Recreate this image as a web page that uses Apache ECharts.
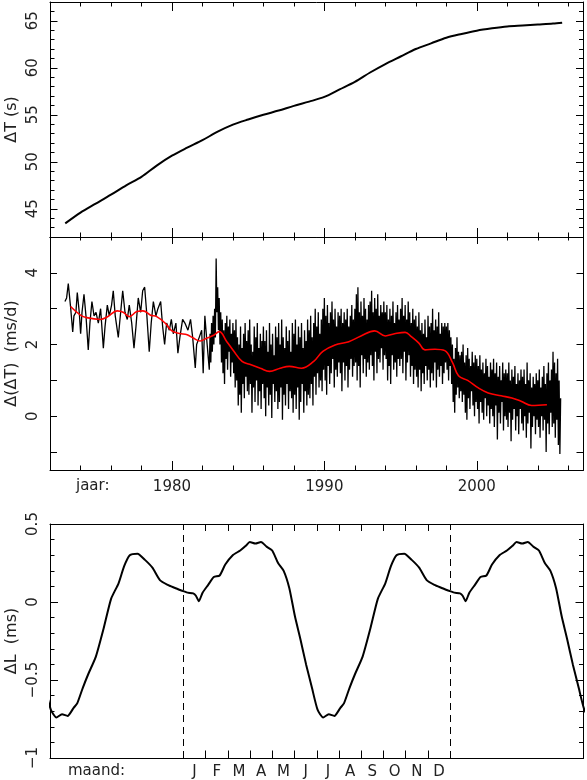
<!DOCTYPE html>
<html><head><meta charset="utf-8">
<script src="https://cdn.jsdelivr.net/npm/echarts@6.0.0/dist/echarts.min.js"></script>
<style>html,body{margin:0;padding:0;background:#fff}#c{width:587px;height:780px}</style>
</head><body><div id="c"></div>
<script>
// ---------- DATA ----------
const dtYears  = [1973.0,1974,1975,1976,1977,1978,1979,1980,1981,1982,1983,1984,1985,1986,1987,1988,1989,1990,1991,1992,1993,1994,1995,1996,1997,1998,1999,2000,2001,2002,2003,2004,2005,2005.6];
const dtValues = [43.45,44.6,45.55,46.5,47.5,48.4,49.6,50.65,51.5,52.3,53.2,53.95,54.5,55.0,55.45,55.95,56.4,56.9,57.7,58.5,59.5,60.4,61.2,62.0,62.6,63.2,63.6,63.95,64.2,64.4,64.5,64.6,64.7,64.8];

const lodEarlyYears  = [1972.98,1973.09,1973.20,1973.36,1973.49,1973.57,1973.70,1973.79,1973.92,1974.01,1974.10,1974.23,1974.36,1974.51,1974.62,1974.75,1974.89,1975.02,1975.17,1975.32,1975.50,1975.61,1975.76,1975.89,1976.04,1976.15,1976.28,1976.48,1976.59,1976.77,1976.92,1977.07,1977.20,1977.36,1977.51,1977.64,1977.79,1977.95,1978.08,1978.21,1978.34,1978.51,1978.64,1978.78,1978.95,1979.08,1979.26,1979.39,1979.52,1979.65,1979.83,1979.96,1980.09,1980.26,1980.39,1980.52,1980.70,1980.85,1981.05,1981.22,1981.36,1981.53,1981.62,1981.79,1981.95,1982.05,1982.16,1982.27,1982.45];
const lodEarlyValues = [3.2,3.3,3.7,3.0,2.35,2.8,2.9,3.45,2.9,2.3,2.9,3.4,2.8,1.85,2.6,3.2,2.8,2.9,2.6,3.0,1.9,2.5,3.1,2.8,3.1,3.5,2.8,2.2,2.7,3.5,2.9,2.7,3.1,2.6,1.9,2.5,3.3,2.9,3.5,3.6,2.9,1.8,2.6,3.2,2.8,3.0,3.2,2.5,2.0,2.6,2.4,2.7,2.3,2.6,1.76,2.2,2.7,2.6,2.4,2.7,2.2,1.35,2.0,2.2,2.4,1.2,2.8,2.2,1.3];

// dense part: one sample every 0.05 yr starting 1982.5
const lodDenseStart = 1982.5;
const lodDenseStep = 0.05;
const lodDenseValues = [
 2.3,1.5,2.6,1.8,2.8,2.0,3.0,2.2,4.4,2.9,
 3.6,2.4,3.3,2.0,2.9,1.5,2.7,1.2,2.4,0.9,2.6,1.6,2.8,1.3,2.5,1.8,2.7,1.1,2.3,1.5,
 2.6,1.2,2.4,0.8,2.7,1.0,2.2,0.3,2.0,0.6,2.5,0.1,1.9,0.9,2.3,0.5,2.6,1.1,2.1,0.7,
 2.4,0.6,2.7,0.9,2.0,0.1,1.8,0.8,2.5,0.4,2.2,1.0,2.6,0.3,1.9,0.7,2.3,0.2,2.1,0.9,
 2.5,0.5,2.1,0.0,2.4,0.8,1.8,0.3,2.6,0.6,2.0,-0.05,2.3,0.9,1.7,0.4,2.5,0.7,2.2,0.2,
 2.6,0.4,2.0,0.8,2.7,-0.1,2.2,0.6,1.9,0.3,2.5,0.9,2.1,0.2,2.4,0.7,1.8,0.5,2.6,0.1,
 2.3,0.6,2.7,0.2,2.0,0.8,2.5,-0.1,2.2,0.4,2.6,0.9,1.9,0.1,2.4,0.7,2.1,0.3,2.7,0.6,
 2.4,0.5,2.8,0.9,2.2,0.3,2.6,1.1,3.0,0.6,2.5,1.2,2.9,0.8,2.3,1.0,2.7,0.7,3.0,1.3,
 3.3,1.0,2.8,0.6,3.1,1.4,2.6,0.9,2.9,1.2,3.2,1.6,2.7,0.8,3.0,1.3,2.5,1.1,2.9,1.5,
 2.8,1.2,3.0,0.7,2.6,1.5,2.9,1.0,2.7,1.4,3.0,0.8,2.5,1.3,2.8,1.6,3.1,1.1,2.7,1.4,
 3.0,1.5,3.4,1.0,3.6,1.4,2.9,0.8,3.2,1.7,2.8,1.2,3.3,1.6,3.0,1.1,2.7,1.5,3.1,1.3,
 3.2,1.7,3.5,1.4,2.9,1.0,3.3,1.8,3.0,1.2,3.4,1.6,2.8,1.5,3.1,1.9,2.9,1.3,3.2,1.7,
 2.9,1.6,3.1,1.0,2.7,1.4,3.0,0.9,2.8,1.7,3.2,1.3,2.6,1.5,2.9,1.1,3.1,1.6,2.7,1.4,
 3.0,1.6,3.3,1.2,2.8,1.8,3.1,1.0,2.7,1.5,3.2,1.7,2.9,1.1,2.6,1.4,3.0,0.9,2.7,1.3,
 2.8,1.1,2.5,0.8,2.9,1.3,2.4,0.7,2.6,1.2,2.3,0.9,2.7,1.4,2.2,1.0,2.8,1.3,2.5,0.8,
 2.6,1.2,3.0,1.0,2.4,1.5,2.7,0.8,2.5,1.3,2.9,1.1,2.3,1.4,2.6,0.9,2.5,1.2,2.6,1.5,
 2.5,1.3,2.6,1.0,2.4,1.4,2.2,0.9,2.0,0.4,1.6,0.1,1.9,0.6,2.2,0.8,1.8,0.5,1.7,0.7,
 1.8,0.4,2.0,0.6,1.5,0.1,1.7,-0.1,1.9,0.5,1.6,0.2,1.4,0.7,1.8,0.3,1.5,0.0,1.7,0.4,
 1.6,0.2,1.4,-0.2,1.7,0.4,1.3,0.1,1.5,-0.1,1.2,0.5,1.6,0.0,1.4,0.3,1.1,-0.2,1.5,0.2,
 1.3,0.0,1.6,-0.3,1.2,0.3,1.5,-0.65,1.1,0.1,1.4,-0.2,1.0,0.4,1.5,-0.4,1.2,0.0,1.3,-0.1,
 1.2,-0.3,1.5,0.1,1.0,-0.7,1.3,-0.1,1.1,0.2,1.4,-0.4,0.9,0.0,1.2,-0.5,1.0,0.2,1.3,-0.2,
 1.1,-0.4,1.3,0.0,0.9,-0.6,1.5,-0.2,1.0,0.1,1.2,-0.9,0.8,-0.3,1.1,0.0,0.9,-0.5,1.2,-0.1,
 1.0,-0.3,1.3,-0.6,0.8,0.0,1.1,-0.4,1.4,-0.1,0.9,-1.0,1.2,-0.2,1.5,-0.5,1.0,0.1,1.3,-0.3,
 1.8,-0.2,1.5,-0.6,1.2,-0.1,1.6,-0.8,1.0,-1.05,0.5
];

const lodSmoothYears  = [1973.35,1974.0,1974.4,1975.3,1975.8,1976.4,1976.8,1977.2,1977.7,1978.1,1978.6,1979.0,1979.55,1980.0,1980.5,1981.0,1981.4,1981.85,1982.3,1982.7,1983.1,1983.6,1984.0,1984.6,1985.1,1985.8,1986.4,1987.1,1987.7,1988.5,1989.3,1989.9,1990.7,1991.6,1992.4,1993.3,1994.0,1994.6,1995.3,1995.7,1996.2,1996.6,1997.25,1997.9,1998.4,1998.8,1999.4,2000.1,2000.75,2001.6,2002.3,2002.9,2003.6,2004.6];
const lodSmoothValues = [3.06,2.82,2.75,2.70,2.78,2.94,2.90,2.78,2.92,2.94,2.82,2.78,2.60,2.38,2.31,2.27,2.18,2.10,2.18,2.25,2.36,2.08,1.85,1.53,1.45,1.34,1.25,1.34,1.39,1.34,1.53,1.81,1.99,2.08,2.24,2.38,2.24,2.30,2.34,2.22,2.04,1.85,1.87,1.83,1.50,1.13,1.00,0.79,0.65,0.57,0.51,0.42,0.30,0.32];

// seasonal variation over one year (fraction of year from 1 Jan)
const seasonT  = [0,0.016,0.037,0.047,0.058,0.072,0.093,0.114,0.136,0.157,0.185,0.213,0.234,0.249,0.270,0.291,0.312,0.333,0.355,0.376,0.397,0.418,0.439,0.460,0.482,0.503,0.524,0.545,0.566,0.588,0.602,0.623,0.644,0.672,0.701,0.729,0.757,0.778,0.799,0.828,0.856,0.884,0.912,0.941,0.969,0.990];
const seasonDL = [0.07,0.06,0.055,0.04,0.005,0.06,0.11,0.16,0.17,0.24,0.30,0.33,0.36,0.385,0.375,0.385,0.355,0.33,0.25,0.20,0.09,-0.09,-0.24,-0.40,-0.55,-0.69,-0.74,-0.72,-0.73,-0.68,-0.65,-0.55,-0.46,-0.35,-0.17,0.02,0.12,0.23,0.30,0.31,0.27,0.22,0.14,0.11,0.09,0.075];

const decadeTicks = [1980,1990,2000];
const dtLabelTicks = [45,50,55,60,65];
const lodTicks = [-1,0,1,2,3,4];
const lodLabelTicks = [0,2,4];
const dlLabelTicks = [-1,-0.5,0,0.5];
const monthLabels = ['J','F','M','A','M','J','J','A','S','O','N','D'];
const monthTicks = [1,2,3,4,5,6,7,8,9,10,11].map(m => m/12);
const monthCenters = monthLabels.map((_, i) => (i + 0.5)/12);

// ---------- BUILD ----------
const FONT = 'DejaVu Sans';
const TXT = '#222';
const LINE = {show:true, onZero:false, lineStyle:{color:'#000', width:1}};
const NOLINE = {show:false, onZero:false};
function ax(o){
  return Object.assign({type:'value', splitLine:{show:false}, axisLine:NOLINE,
    axisLabel:{show:false}, axisTick:{show:false}}, o);
}
function tick(len, extra){ return Object.assign({show:true, inside:true, length:len, lineStyle:{color:'#000', width:1}}, extra||{}); }
const lbl = (extra) => Object.assign({show:true, color:TXT, fontFamily:FONT, fontSize:15}, extra);
const fmtMinus = v => String(Math.round(v*10)/10).replace('-', '\u2212');

const G = [
  {left:50, right:3.5, top:2, height:235},
  {left:50, right:3.5, top:237, height:233},
  {left:50, right:3.5, top:524, height:234}
].map(g => Object.assign({containLabel:false, outerBoundsMode:'none'}, g));

const X0 = {min:1972, max:2007};
const xAxis = [
  ax(Object.assign({gridIndex:0, position:'bottom', interval:2, axisLine:LINE, axisTick:tick(4.5)}, X0)),
  ax(Object.assign({gridIndex:0, position:'bottom', axisTick:tick(9, {customValues:decadeTicks})}, X0)),
  ax(Object.assign({gridIndex:0, position:'top', interval:2, axisLine:LINE, axisTick:tick(4.5)}, X0)),
  ax(Object.assign({gridIndex:0, position:'top', axisTick:tick(9, {customValues:decadeTicks})}, X0)),
  ax(Object.assign({gridIndex:1, position:'bottom', interval:2, axisLine:LINE, axisTick:tick(4.5)}, X0)),
  ax(Object.assign({gridIndex:1, position:'bottom', axisTick:tick(9, {customValues:decadeTicks}),
     axisLabel:lbl({customValues:decadeTicks, margin:10, formatter: v => String(v)})}, X0)),
  ax(Object.assign({gridIndex:1, position:'top', interval:2, axisLine:LINE, axisTick:tick(3.5)}, X0)),
  ax(Object.assign({gridIndex:1, position:'top', axisTick:tick(7, {customValues:decadeTicks})}, X0)),
  ax({gridIndex:2, position:'bottom', min:-0.5, max:1.5, axisLine:LINE,
     axisTick:tick(7.5, {customValues:monthTicks}),
     axisLabel:lbl({customValues:monthCenters, margin:7, formatter: v => monthLabels[Math.round(v*12-0.5)]})}),
  ax({gridIndex:2, position:'top', min:-0.5, max:1.5, axisLine:LINE,
     axisTick:tick(7, {customValues:monthTicks})})
];

const nameStyle = {color:TXT, fontFamily:FONT, fontSize:16};
const NM = {nameLocation:'middle', nameGap:30, nameMoveOverlap:false, nameTextStyle:nameStyle};
const Y0 = {min:42, max:67};
const Y1 = {min:-1.5, max:5};
const Y2 = {min:-1, max:0.5};
const yAxis = [
  ax(Object.assign({gridIndex:0, position:'left', interval:1, axisLine:LINE, axisTick:tick(4.5)}, Y0)),
  ax(Object.assign({gridIndex:0, position:'left', axisTick:tick(7.5, {customValues:dtLabelTicks}),
     axisLabel:lbl({customValues:dtLabelTicks, rotate:90, margin:9}),
     name:'\u0394T (s)'}, NM, Y0)),
  ax(Object.assign({gridIndex:0, position:'right', interval:1, axisLine:LINE, axisTick:tick(4.5)}, Y0)),
  ax(Object.assign({gridIndex:0, position:'right', axisTick:tick(7.5, {customValues:dtLabelTicks})}, Y0)),
  ax(Object.assign({gridIndex:1, position:'left', axisLine:LINE, axisTick:tick(7, {customValues:lodTicks}),
     axisLabel:lbl({customValues:lodLabelTicks, rotate:90, margin:9}),
     name:'\u0394(\u0394T)  (ms/d)'}, NM, Y1)),
  ax(Object.assign({gridIndex:1, position:'right', axisLine:LINE, axisTick:tick(7, {customValues:lodTicks})}, Y1)),
  ax(Object.assign({gridIndex:2, position:'left', interval:0.1, axisLine:LINE, axisTick:tick(4.5)}, Y2)),
  ax(Object.assign({gridIndex:2, position:'left', axisTick:tick(8, {customValues:dlLabelTicks}),
     axisLabel:lbl({customValues:dlLabelTicks, rotate:90, margin:9, formatter:fmtMinus}),
     name:'\u0394L  (ms)'}, NM, Y2)),
  ax(Object.assign({gridIndex:2, position:'right', interval:0.1, axisLine:LINE, axisTick:tick(4.5)}, Y2)),
  ax(Object.assign({gridIndex:2, position:'right', axisTick:tick(8, {customValues:dlLabelTicks})}, Y2))
];

const dtData = dtYears.map((y, i) => [y, dtValues[i]]);
const lodData = lodEarlyYears.map((y, i) => [y, lodEarlyValues[i]])
  .concat(lodDenseValues.map((v, i) => [lodDenseStart + i*lodDenseStep, v]));
const smoothData = lodSmoothYears.map((y, i) => [y, lodSmoothValues[i]]);
const seasonData = [];
[-1, 0, 1].forEach(k => seasonT.forEach((t, i) => seasonData.push([t + k, seasonDL[i]])));

const chart = echarts.init(document.getElementById('c'), null, {renderer:'canvas'});
chart.setOption({
  animation:false,
  backgroundColor:'#fff',
  grid:G,
  xAxis, yAxis,
  series:[
    {type:'line', xAxisIndex:0, yAxisIndex:0, data:dtData, showSymbol:false, smooth:0.3,
     lineStyle:{color:'#000', width:2}},
    {type:'line', xAxisIndex:4, yAxisIndex:4, data:lodData, showSymbol:false, sampling:null,
     lineStyle:{color:'#000', width:1.3}},
    {type:'line', xAxisIndex:4, yAxisIndex:4, data:smoothData, showSymbol:false, smooth:0.4,
     lineStyle:{color:'#ff0000', width:1.6}, z:5},
    {type:'line', xAxisIndex:8, yAxisIndex:6, data:seasonData, showSymbol:false, smooth:0.2,
     lineStyle:{color:'#000', width:2},
     markLine:{silent:true, symbol:'none', label:{show:false},
       lineStyle:{color:'#000', width:1, type:[7,5]},
       data:[{xAxis:0},{xAxis:1}]}}
  ],
  graphic:[
    {type:'text', left:76, top:479, style:{text:'jaar:', fill:TXT, font:'15px "DejaVu Sans"'}},
    {type:'text', left:68, top:764, style:{text:'maand:', fill:TXT, font:'15px "DejaVu Sans"'}}
  ]
});
</script></body></html>
